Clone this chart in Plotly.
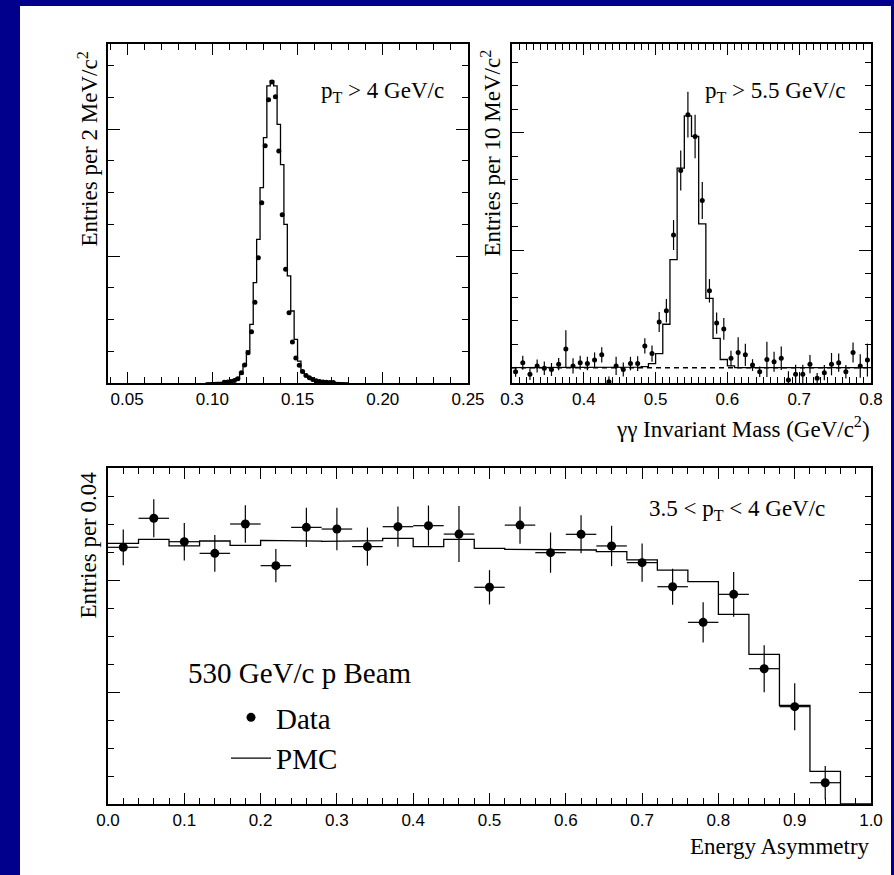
import numpy as np
import plotly.graph_objects as go

W, H = 894, 875

# ---- pi0 -> gamma gamma, 2 MeV/c^2 bins (arbitrary units, major tick = 1) ----
pi0_edge0 = 0.096
pi0_binw = 0.002
pi0_mc = [0.001, 0.001, 0.002, 0.003, 0.004, 0.006, 0.009, 0.014, 0.024, 0.042,
          0.070, 0.147, 0.252, 0.462, 0.790, 1.131, 1.538, 1.932, 2.340, 2.380,
          2.340, 2.037, 1.720, 1.249, 0.843, 0.567, 0.344, 0.173, 0.081, 0.055,
          0.038, 0.027, 0.019, 0.013, 0.009, 0.006, 0.004, 0.003, 0.002, 0.002,
          0.001, 0.001]
pi0_data_first = 0.107
pi0_data = [0.005, 0.008, 0.012, 0.020, 0.034, 0.080, 0.141, 0.239, 0.403, 0.635,
            0.987, 1.420, 1.868, 2.230, 2.370, 2.253, 1.827, 1.325, 0.895, 0.554,
            0.323, 0.196, 0.140, 0.090, 0.060, 0.042, 0.028, 0.018, 0.012, 0.008,
            0.006, 0.004, 0.003]

# ---- eta -> gamma gamma, 10 MeV/c^2 bins ----
eta_edge0 = 0.30
eta_binw = 0.01
eta_bkg = 40.0
eta_mc = [40.0] * 17 + [40.1, 40.2, 40.7, 42.4, 47.4, 58.4, 74.0, 82.9, 79.4,
                        64.5, 51.8, 45.0, 41.4, 40.3] + [40.0] * 19
eta_data = [39.3, 40.85, 38.9, 40.3, 39.9, 39.7, 40.6, 43.2, 40.3, 40.85,
            40.7, 41.3, 42.2, 37.6, 40.3, 39.7, 40.7, 40.7, 43.7, 42.4,
            47.8, 49.7, 62.6, 73.6, 83.1, 79.4, 68.5, 53.1, 47.6, 46.6,
            41.6, 42.6, 42.2, 40.45, 39.3, 41.4, 41.0, 41.6, 37.9, 38.9,
            38.9, 40.6, 38.2, 39.15, 40.6, 40.85, 39.3, 42.6, 40.3, 41.3]
eta_err = [0.85, 1.2, 1.0, 1.1, 1.15, 1.1, 1.05, 3.2, 1.3, 1.2,
           1.15, 1.3, 1.3, 0.9, 1.55, 1.2, 1.15, 1.25, 1.3, 1.4,
           1.7, 2.0, 2.55, 3.4, 3.9, 3.7, 3.15, 2.0, 1.8, 1.85,
           1.3, 2.6, 1.9, 1.0, 0.9, 3.0, 1.7, 2.0, 1.5, 1.6,
           1.6, 1.55, 0.9, 1.3, 1.9, 1.55, 1.15, 1.7, 2.0, 2.8]

# ---- energy asymmetry, 0.04 bins ----
asym_edge0 = 0.0
asym_binw = 0.04
asym_mc = [2.327, 2.363, 2.304, 2.348, 2.310, 2.354, 2.348, 2.345, 2.351, 2.372,
           2.298, 2.363, 2.283, 2.274, 2.274, 2.268, 2.253, 2.179, 2.089, 1.985,
           1.693, 1.336, 0.881, 0.292, 0.0]
asym_data = [2.292, 2.551, 2.342, 2.238, 2.500, 2.128, 2.470, 2.455, 2.298, 2.476,
             2.485, 2.410, 1.935, 2.490, 2.244, 2.408, 2.304, 2.155, 1.940, 1.622,
             1.872, 1.208, 0.869, 0.190]
asym_err = [0.16, 0.17, 0.167, 0.164, 0.168, 0.149, 0.175, 0.19, 0.17, 0.18,
            0.18, 0.25, 0.153, 0.167, 0.18, 0.17, 0.18, 0.17, 0.16, 0.18,
            0.20, 0.21, 0.21, 0.15]

SERIF = "Liberation Serif, Times New Roman, serif"
SANS = "Liberation Sans, Arial, sans-serif"


def step_xy(edge0, width, vals):
    vals = np.asarray(vals, dtype=float)
    edges = edge0 + width * np.arange(len(vals) + 1)
    x = np.repeat(edges, 2)[1:-1]
    y = np.repeat(vals, 2)
    return x, y


def centers(edge0, width, n):
    return edge0 + width * (np.arange(n) + 0.5)


def px_x(p):
    return p / W


def px_y(p):
    return 1 - p / H


fig = go.Figure()
LINE = dict(color="black", width=1.3)

# panel 1: pi0
x, y = step_xy(pi0_edge0, pi0_binw, pi0_mc)
fig.add_trace(go.Scatter(x=x, y=y, mode="lines", line=LINE, showlegend=False,
                         xaxis="x", yaxis="y"))
fig.add_trace(go.Scatter(x=pi0_data_first + pi0_binw * np.arange(len(pi0_data)),
                         y=pi0_data, mode="markers",
                         marker=dict(color="black", size=5), showlegend=False,
                         xaxis="x", yaxis="y"))

# panel 2: eta
eta_c = centers(eta_edge0, eta_binw, len(eta_mc))
fig.add_trace(go.Scatter(x=[eta_c[0] - eta_binw / 2, eta_c[-1] + eta_binw / 2],
                         y=[eta_bkg, eta_bkg], mode="lines",
                         line=dict(color="black", width=1.4, dash="5px,4px"),
                         showlegend=False, xaxis="x2", yaxis="y2"))
x, y = step_xy(eta_edge0, eta_binw, eta_mc)
fig.add_trace(go.Scatter(x=x, y=y, mode="lines", line=LINE, showlegend=False,
                         xaxis="x2", yaxis="y2"))
fig.add_trace(go.Scatter(x=centers(eta_edge0, eta_binw, len(eta_data)), y=eta_data,
                         mode="markers", marker=dict(color="black", size=5),
                         error_y=dict(type="data", array=eta_err, color="black",
                                      thickness=1.2, width=0),
                         error_x=dict(type="constant", value=0.002, color="black",
                                      thickness=1.2, width=0),
                         showlegend=False, xaxis="x2", yaxis="y2"))

# panel 3: energy asymmetry
x, y = step_xy(asym_edge0, asym_binw, asym_mc)
fig.add_trace(go.Scatter(x=x, y=y, mode="lines", line=LINE, name="PMC",
                         xaxis="x3", yaxis="y3", legendrank=2))
fig.add_trace(go.Scatter(x=centers(asym_edge0, asym_binw, len(asym_data)), y=asym_data,
                         mode="markers", name="Data",
                         marker=dict(color="black", size=9),
                         error_y=dict(type="data", array=asym_err, color="black",
                                      thickness=1.2, width=0),
                         error_x=dict(type="constant", value=asym_binw / 2,
                                      color="black", thickness=1.2, width=0),
                         xaxis="x3", yaxis="y3", legendrank=1))

tickfont = dict(family=SANS, size=17, color="black")


def xax(dom, rng, dtick, minor_dtick, fmt, anchor):
    return dict(domain=dom, range=rng, anchor=anchor, tick0=0, dtick=dtick,
                tickformat=fmt, ticks="inside", ticklen=11, tickwidth=1.2,
                tickcolor="black", minor=dict(dtick=minor_dtick, tick0=0,
                ticks="inside", ticklen=6, tickwidth=1.2, tickcolor="black"),
                showline=True, linecolor="black", linewidth=1.5, mirror="allticks",
                showgrid=False, zeroline=False, tickfont=tickfont, automargin=False,
                fixedrange=True)


def yax(dom, rng, tick0, dtick, minor_dtick, anchor):
    return dict(domain=dom, range=rng, anchor=anchor, tick0=tick0, dtick=dtick,
                showticklabels=False, ticks="inside", ticklen=12, tickwidth=1.2,
                tickcolor="black", minor=dict(dtick=minor_dtick, tick0=tick0,
                ticks="inside", ticklen=6, tickwidth=1.2, tickcolor="black"),
                showline=True, linecolor="black", linewidth=1.5, mirror="allticks",
                showgrid=False, zeroline=False, automargin=False, fixedrange=True)


top_bot = 383
fig.update_layout(
    width=W, height=H,
    margin=dict(l=0, r=0, t=0, b=0),
    paper_bgcolor="#00008c",
    plot_bgcolor="white",
    xaxis=xax([px_x(108), px_x(468)], [0.0388, 0.25], 0.05, 0.01, ".2f", "y"),
    yaxis=yax([px_y(top_bot), px_y(44)], [0, (top_bot - 44) / 127.0], 0, 1, 0.25, "x"),
    xaxis2=xax([px_x(512), px_x(871)], [0.3, 0.8], 0.1, 0.01, ".1f", "y2"),
    yaxis2=yax([px_y(top_bot), px_y(44)],
               [40 - (top_bot - 367.7) / 5.87, 40 + (367.7 - 44) / 5.87], 0, 20, 4, "x2"),
    xaxis3=xax([px_x(108), px_x(871)], [0.0, 1.0], 0.1, 0.02, ".1f", "y3"),
    yaxis3=yax([px_y(804), px_y(468)], [0, 3.0], 0, 1, 0.25, "x3"),
    legend=dict(x=px_x(226), y=px_y(692), xanchor="left", yanchor="top",
                bgcolor="rgba(0,0,0,0)", font=dict(family=SERIF, size=29, color="black"),
                tracegroupgap=0, itemwidth=40),
    showlegend=True,
    shapes=[dict(type="rect", xref="paper", yref="paper", layer="below",
                 x0=px_x(20), x1=px_x(891), y0=0, y1=px_y(6),
                 fillcolor="white", line=dict(width=0))],
)

ann_font = dict(family=SERIF, size=23, color="black")
annotations = [
    dict(text="Entries per 2 MeV/c<sup>2</sup>", x=px_x(88), y=px_y(50), textangle=-90,
         xanchor="center", yanchor="top"),
    dict(text="Entries per 10 MeV/c<sup>2</sup>", x=px_x(491), y=px_y(47), textangle=-90,
         xanchor="center", yanchor="top"),
    dict(text="Entries per 0.04", x=px_x(88), y=px_y(470), textangle=-90,
         xanchor="center", yanchor="top"),
    dict(text="γγ Invariant Mass (GeV/c<sup>2</sup>)", x=px_x(872), y=px_y(427),
         xanchor="right", yanchor="middle"),
    dict(text="Energy Asymmetry", x=px_x(872), y=px_y(846),
         xanchor="right", yanchor="middle"),
    dict(text="p<sub>T</sub> > 4 GeV/c", x=px_x(319), y=px_y(92),
         xanchor="left", yanchor="middle"),
    dict(text="p<sub>T</sub> > 5.5 GeV/c", x=px_x(703), y=px_y(92),
         xanchor="left", yanchor="middle"),
    dict(text="3.5 < p<sub>T</sub> < 4 GeV/c", x=px_x(647), y=px_y(510),
         xanchor="left", yanchor="middle"),
    dict(text="530 GeV/c p Beam", x=px_x(186), y=px_y(673), xanchor="left",
         yanchor="middle", font=dict(family=SERIF, size=29, color="black")),
]
for a in annotations:
    a.setdefault("font", ann_font)
    fig.add_annotation(xref="paper", yref="paper", showarrow=False, **a)

fig.write_html("out.html")
